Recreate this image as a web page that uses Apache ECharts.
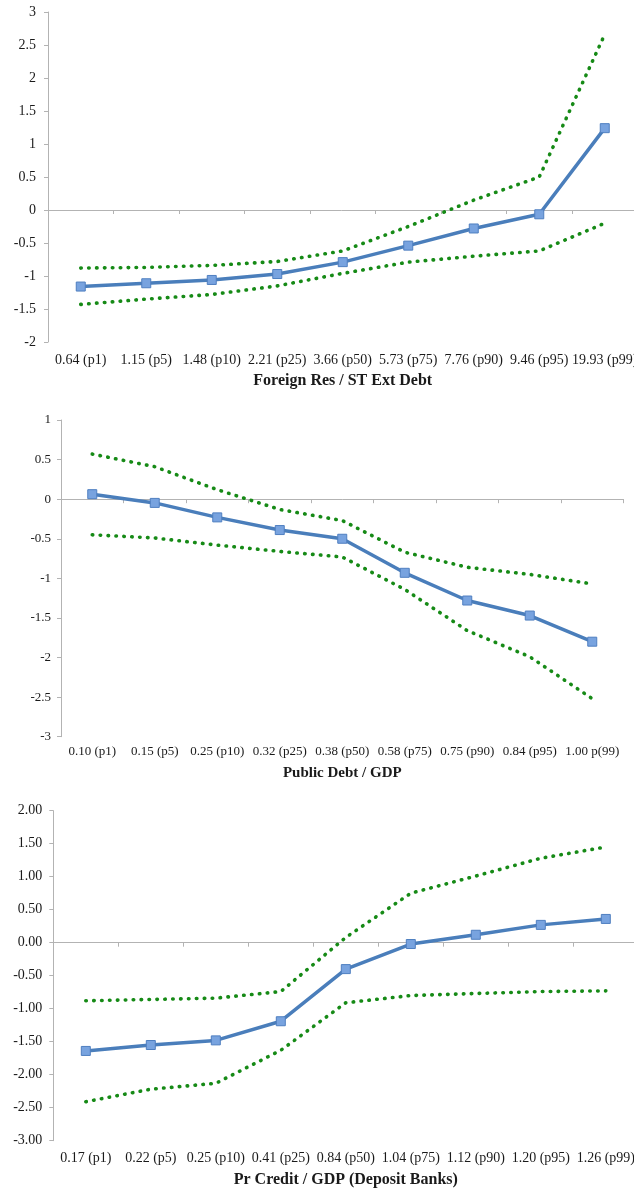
<!DOCTYPE html>
<html>
<head>
<meta charset="utf-8">
<script src="https://cdn.jsdelivr.net/npm/echarts@6/dist/echarts.min.js"></script>
<style>
html,body{margin:0;padding:0;background:#fff;}
#main{width:634px;height:1191px;}
</style>
</head>
<body>
<div id="main"></div>
<script>
// ---- Panel 1: Foreign Res / ST Ext Debt ----
const cats1 = ['0.64 (p1)','1.15 (p5)','1.48 (p10)','2.21 (p25)','3.66 (p50)','5.73 (p75)','7.76 (p90)','9.46 (p95)','19.93 (p99)'];
const est1   = [-1.16,-1.11,-1.06,-0.97,-0.79,-0.54,-0.28,-0.065,1.24];
const upper1 = [-0.88,-0.87,-0.84,-0.78,-0.62,-0.25,0.15,0.50,2.66];
const lower1 = [-1.43,-1.35,-1.28,-1.15,-0.96,-0.79,-0.70,-0.62,-0.20];
const title1 = 'Foreign Res / ST Ext Debt';

// ---- Panel 2: Public Debt / GDP ----
const cats2 = ['0.10 (p1)','0.15 (p5)','0.25 (p10)','0.32 (p25)','0.38 (p50)','0.58 (p75)','0.75 (p90)','0.84 (p95)','1.00 p(99)'];
const est2   = [0.063,-0.047,-0.23,-0.39,-0.50,-0.93,-1.28,-1.47,-1.80];
const upper2 = [0.57,0.41,0.12,-0.13,-0.27,-0.67,-0.86,-0.95,-1.07];
const lower2 = [-0.45,-0.49,-0.58,-0.66,-0.73,-1.14,-1.66,-1.99,-2.52];
const title2 = 'Public Debt / GDP';

// ---- Panel 3: Pr Credit / GDP (Deposit Banks) ----
const cats3 = ['0.17 (p1)','0.22 (p5)','0.25 (p10)','0.41 (p25)','0.84 (p50)','1.04 (p75)','1.12 (p90)','1.20 (p95)','1.26 (p99)'];
const est3   = [-1.64,-1.55,-1.48,-1.19,-0.40,-0.02,0.12,0.27,0.36];
const upper3 = [-0.88,-0.86,-0.84,-0.74,0.08,0.75,1.01,1.28,1.45];
const lower3 = [-2.41,-2.22,-2.13,-1.63,-0.91,-0.80,-0.77,-0.74,-0.73];
const title3 = 'Pr Credit / GDP (Deposit Banks)';

const FONT = 'Liberation Serif';
const AXIS_COLOR = '#b3b3b3';
const TEXT_COLOR = '#1a1a1a';

const panels = [
  {cats:cats1, est:est1, up:upper1, lo:lower1, title:title1, min:-2, max:3, fmt:null,
   grid:{left:48, top:12, width:589.5, height:330}, fs:14, tfs:16, ylm:12, xlm:11, gap:31},
  {cats:cats2, est:est2, up:upper2, lo:lower2, title:title2, min:-3, max:1, fmt:null,
   grid:{left:61, top:420, width:562.5, height:316.7}, fs:13, tfs:15, ylm:10, xlm:8, gap:29},
  {cats:cats3, est:est3, up:upper3, lo:lower3, title:title3, min:-3, max:2, fmt:(v)=>v.toFixed(2),
   grid:{left:53.3, top:810.7, width:585, height:330}, fs:14, tfs:16, ylm:11, xlm:11, gap:31.5}
];

const grids = [], xAxes = [], yAxes = [], series = [];
panels.forEach((p, i) => {
  grids.push(Object.assign({containLabel:false, outerBoundsMode:'none'}, p.grid));
  // label axis at bottom (no line)
  xAxes.push({
    type:'category', gridIndex:i, data:p.cats, position:'bottom',
    axisLine:{show:false, onZero:false}, axisTick:{show:false},
    axisLabel:{fontFamily:FONT, fontSize:p.fs, color:TEXT_COLOR, margin:p.xlm, interval:0, hideOverlap:false},
    name:p.title, nameLocation:'middle', nameGap:p.gap,
    nameTextStyle:{fontFamily:FONT, fontSize:p.tfs, fontWeight:'bold', color:TEXT_COLOR},
    splitLine:{show:false}
  });
  // zero line axis with ticks
  xAxes.push({
    type:'category', gridIndex:i, data:p.cats, position:'top',
    axisLine:{show:true, onZero:true, lineStyle:{color:AXIS_COLOR, width:1}},
    axisTick:{show:true, inside:true, length:4, interval:0, lineStyle:{color:AXIS_COLOR}},
    axisLabel:{show:false, interval:0}, splitLine:{show:false}
  });
  yAxes.push({
    type:'value', gridIndex:i, min:p.min, max:p.max, interval:0.5,
    axisLine:{show:true, lineStyle:{color:AXIS_COLOR, width:1}},
    axisTick:{show:true, length:4, lineStyle:{color:AXIS_COLOR}},
    axisLabel:{fontFamily:FONT, fontSize:p.fs, color:TEXT_COLOR, margin:p.ylm,
               formatter: p.fmt ? p.fmt : undefined},
    splitLine:{show:false}
  });
  const dotted = {color:'#168a16', width:3.6, type:[0.5, 7.4], cap:'round'};
  series.push({
    type:'line', xAxisIndex:2*i, yAxisIndex:i, data:p.up, symbol:'none',
    lineStyle:dotted, z:2, silent:true
  });
  series.push({
    type:'line', xAxisIndex:2*i, yAxisIndex:i, data:p.lo, symbol:'none',
    lineStyle:dotted, z:2, silent:true
  });
  series.push({
    type:'line', xAxisIndex:2*i, yAxisIndex:i, data:p.est, symbol:'rect', symbolSize:9,
    lineStyle:{color:'#4a7ebb', width:3.5},
    itemStyle:{color:'#78a3df', borderColor:'#4f7fc0', borderWidth:1},
    z:3, silent:true
  });
});

const chart = echarts.init(document.getElementById('main'), null, {renderer:'canvas'});
chart.setOption({
  animation:false,
  backgroundColor:'#ffffff',
  grid:grids, xAxis:xAxes, yAxis:yAxes, series:series
});
</script>
</body>
</html>
